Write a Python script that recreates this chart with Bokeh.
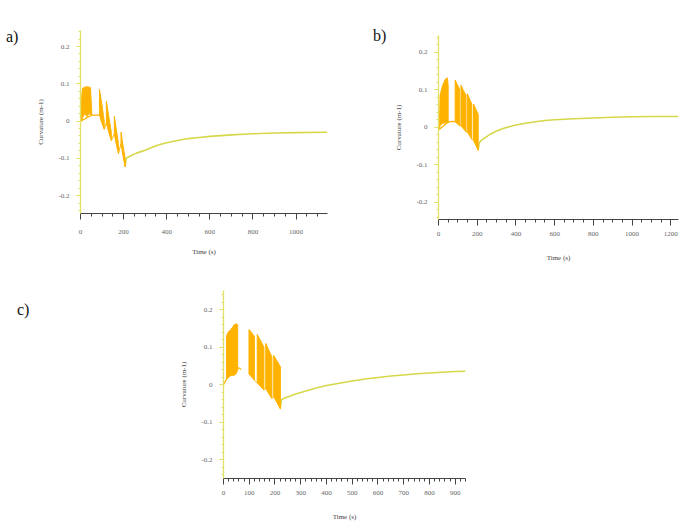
from bokeh.plotting import figure
from bokeh.models import Range1d, SingleIntervalTicker, FixedTicker, Div, Spacer
from bokeh.layouts import row, column
from bokeh.embed import file_html
from bokeh.resources import INLINE

# ---------------- data ----------------
Y_TICKS = [-0.2, -0.1, 0.0, 0.1, 0.2]
Y_TICK_LABELS = ["-0.2", "-0.1", "0", "0.1", "0.2"]
Y_MINOR_STEP = 0.02
X_LABEL = "Time (s)"
Y_LABEL = "Curvature (m-1)"
PANEL_LABELS = ["a)", "b)", "c)"]

# panel a
A_BURST_T = [[2, 6, 10, 20, 30, 40, 46, 52],
             [88, 99, 110], [120, 131, 143], [157, 166, 176], [188, 197, 207]]
A_BURST_HI = [[0.0, 0.07, 0.088, 0.091, 0.092, 0.091, 0.09, 0.03],
              [0.085, 0.045, 0.0], [0.053, 0.012, -0.03],
              [0.013, -0.022, -0.06], [-0.03, -0.065, -0.1]]
A_BURST_LO = [[0.0, 0.0, 0.01, 0.02, 0.012, 0.02, 0.018, 0.015],
              [0.016, -0.005, -0.022], [-0.005, -0.03, -0.052],
              [-0.035, -0.062, -0.087], [-0.06, -0.093, -0.123]]
A_FLAT_T = [0, 2, 52, 70, 88]
A_FLAT_V = [0.0, 0.0, 0.016, 0.016, 0.016]
A_RELAX_T = [207, 212, 220, 240, 260, 280, 300, 330, 360, 400, 450, 500, 550,
             600, 700, 800, 900, 1000, 1146]
A_RELAX_V = [-0.123, -0.100, -0.097, -0.091, -0.086, -0.082, -0.078, -0.071,
             -0.064, -0.058, -0.052, -0.047, -0.044, -0.041, -0.037, -0.034,
             -0.032, -0.031, -0.030]

# panel b
B_BURST_T = [[5, 8, 20, 35, 46, 50],
             [86, 97, 108], [116, 129, 142], [149, 160, 172], [181, 193, 205]]
B_BURST_HI = [[0.01, 0.085, 0.11, 0.128, 0.132, 0.11],
              [0.126, 0.114, 0.102], [0.112, 0.098, 0.085],
              [0.09, 0.076, 0.062], [0.062, 0.048, 0.035]]
B_BURST_LO = [[-0.005, 0.005, 0.01, 0.012, 0.012, 0.012],
              [0.015, 0.01, 0.004], [0.005, -0.004, -0.012],
              [-0.012, -0.022, -0.032], [-0.035, -0.048, -0.062]]
B_FLAT_T = [0, 5, 50, 70, 86]
B_FLAT_V = [0.0, -0.005, 0.014, 0.016, 0.015]
B_RELAX_T = [205, 210, 220, 240, 260, 280, 300, 330, 360, 400, 450, 500, 550,
             600, 700, 800, 900, 1000, 1100, 1240]
B_RELAX_V = [-0.060, -0.042, -0.035, -0.028, -0.021, -0.015, -0.010, -0.004,
             0.001, 0.006, 0.011, 0.015, 0.018, 0.020, 0.023, 0.025, 0.027,
             0.028, 0.029, 0.029]

# panel c
C_BURST_T = [[12, 18, 30, 42, 50, 55],
             [99, 110, 120], [131, 144, 157], [164, 176, 188], [195, 208, 221]]
C_BURST_HI = [[0.13, 0.14, 0.148, 0.16, 0.162, 0.16],
              [0.147, 0.138, 0.128], [0.134, 0.117, 0.1],
              [0.11, 0.092, 0.074], [0.078, 0.063, 0.048]]
C_BURST_LO = [[0.015, 0.02, 0.025, 0.025, 0.03, 0.04],
              [0.028, 0.02, 0.012], [0.005, -0.005, -0.014],
              [-0.01, -0.024, -0.037], [-0.032, -0.048, -0.065]]
C_FLAT_T = [0, 12, 55, 62, 68]
C_FLAT_V = [0.0, 0.015, 0.045, 0.044, 0.04]
C_RELAX_T = [221, 225, 240, 260, 280, 300, 330, 360, 400, 450, 500, 550, 600,
             650, 700, 750, 800, 850, 900, 940]
C_RELAX_V = [-0.062, -0.040, -0.035, -0.030, -0.025, -0.021, -0.015, -0.009,
             -0.002, 0.004, 0.010, 0.015, 0.019, 0.023, 0.026, 0.029, 0.031,
             0.033, 0.035, 0.036]

ORANGE = "#ffb300"
GREEN = "#d6d84a"
YAXIS_COL = "#e0e066"
FONT = "Liberation Serif"


def make_panel(width, height, xmax, ymin, ymax, borders, x_interval, x_minor,
               tick_std, lab_std, bursts_t, bursts_hi, bursts_lo, flat_t, flat_v,
               relax_t, relax_v):
    left, right, top, bottom = borders
    p = figure(width=width, height=height, x_range=Range1d(0, xmax),
               y_range=Range1d(ymin, ymax), output_backend="svg",
               toolbar_location=None, title=None, min_border_left=left,
               min_border_right=right, min_border_top=top,
               min_border_bottom=bottom)
    p.outline_line_color = None
    p.xgrid.visible = False
    p.ygrid.visible = False
    p.background_fill_color = "white"
    p.border_fill_color = "white"

    # traces
    p.line(relax_t, relax_v, line_color=GREEN, line_width=1.6)
    p.line(flat_t, flat_v, line_color=ORANGE, line_width=1.2)
    for i, (t, hi, lo) in enumerate(zip(bursts_t, bursts_hi, bursts_lo)):
        xs = list(t) + list(t[::-1])
        ys = list(hi) + list(lo[::-1])
        p.patch(xs, ys, fill_color=ORANGE, line_color=ORANGE, line_width=1)
        if 1 <= i and i + 1 < len(bursts_t):
            nt = bursts_t[i + 1]
            nl = bursts_lo[i + 1]
            p.line([t[-1], nt[0]], [lo[-1], nl[0]], line_color=ORANGE,
                   line_width=1)

    # x axis
    xa = p.xaxis[0]
    xa.ticker = SingleIntervalTicker(interval=x_interval, num_minor_ticks=x_minor)
    xa.axis_line_color = "#444444"
    xa.major_tick_line_color = "#444444"
    xa.minor_tick_line_color = "#444444"
    xa.major_tick_out = 6
    xa.major_tick_in = 0
    xa.minor_tick_out = 3
    xa.minor_tick_in = 0
    xa.major_label_standoff = tick_std
    xa.axis_label = X_LABEL
    xa.axis_label_standoff = lab_std

    # y axis
    ya = p.yaxis[0]
    n = int(round(0.24 / Y_MINOR_STEP))
    minors = [round(k * Y_MINOR_STEP, 2) for k in range(-n, n + 1)]
    ya.ticker = FixedTicker(ticks=Y_TICKS, minor_ticks=minors)
    ya.major_label_overrides = dict(zip(Y_TICKS, Y_TICK_LABELS))
    ya.axis_line_color = YAXIS_COL
    ya.axis_line_width = 1.3
    ya.major_tick_line_color = YAXIS_COL
    ya.minor_tick_line_color = YAXIS_COL
    ya.major_tick_out = 4
    ya.major_tick_in = 0
    ya.minor_tick_out = 2
    ya.minor_tick_in = 0
    ya.major_label_standoff = 7
    ya.axis_label = Y_LABEL
    ya.axis_label_standoff = 10

    for ax in (xa, ya):
        ax.major_label_text_font = FONT
        ax.major_label_text_font_size = "7px"
        ax.major_label_text_color = "#666666"
        ax.axis_label_text_font = FONT
        ax.axis_label_text_font_size = "7px"
        ax.axis_label_text_font_style = "normal"
        ax.axis_label_text_color = "#444444"
    return p


fa = make_panel(315, 258, 1146, -0.248, 0.243, (50, 18, 30, 45), 200, 4, 10, 11,
                A_BURST_T, A_BURST_HI, A_BURST_LO, A_FLAT_T, A_FLAT_V,
                A_RELAX_T, A_RELAX_V)
fb = make_panel(292, 259, 1240, -0.246, 0.245, (47, 5, 30, 45), 200, 4, 6, 15,
                B_BURST_T, B_BURST_HI, B_BURST_LO, B_FLAT_T, B_FLAT_V,
                B_RELAX_T, B_RELAX_V)
fc = make_panel(304, 256, 940, -0.25, 0.251, (47, 15, 22, 46), 100, 5, 6, 15,
                C_BURST_T, C_BURST_HI, C_BURST_LO, C_FLAT_T, C_FLAT_V,
                C_RELAX_T, C_RELAX_V)


def label_div(text, width, height, top, left):
    html = ('<div style="font-family:\'Liberation Serif\'; font-size:16px; '
            'color:#111; margin-top:%dpx; margin-left:%dpx; line-height:18px;">%s</div>'
            % (top, left, text))
    return Div(text=html, width=width, height=height, margin=(0, 0, 0, 0))


da = label_div(PANEL_LABELS[0], 30, 268, 28, 6)
db = label_div(PANEL_LABELS[1], 46, 268, 27, 28)
dc = label_div(PANEL_LABELS[2], 176, 256, 33, 17)

col_a = column(fa, Spacer(width=315, height=10), spacing=0)
col_b = column(Spacer(width=292, height=5), fb, spacing=0)

layout = column(row(da, col_a, db, col_b, spacing=0), row(dc, fc, spacing=0),
                spacing=0)

open("out.html", "w").write(file_html(layout, INLINE))
